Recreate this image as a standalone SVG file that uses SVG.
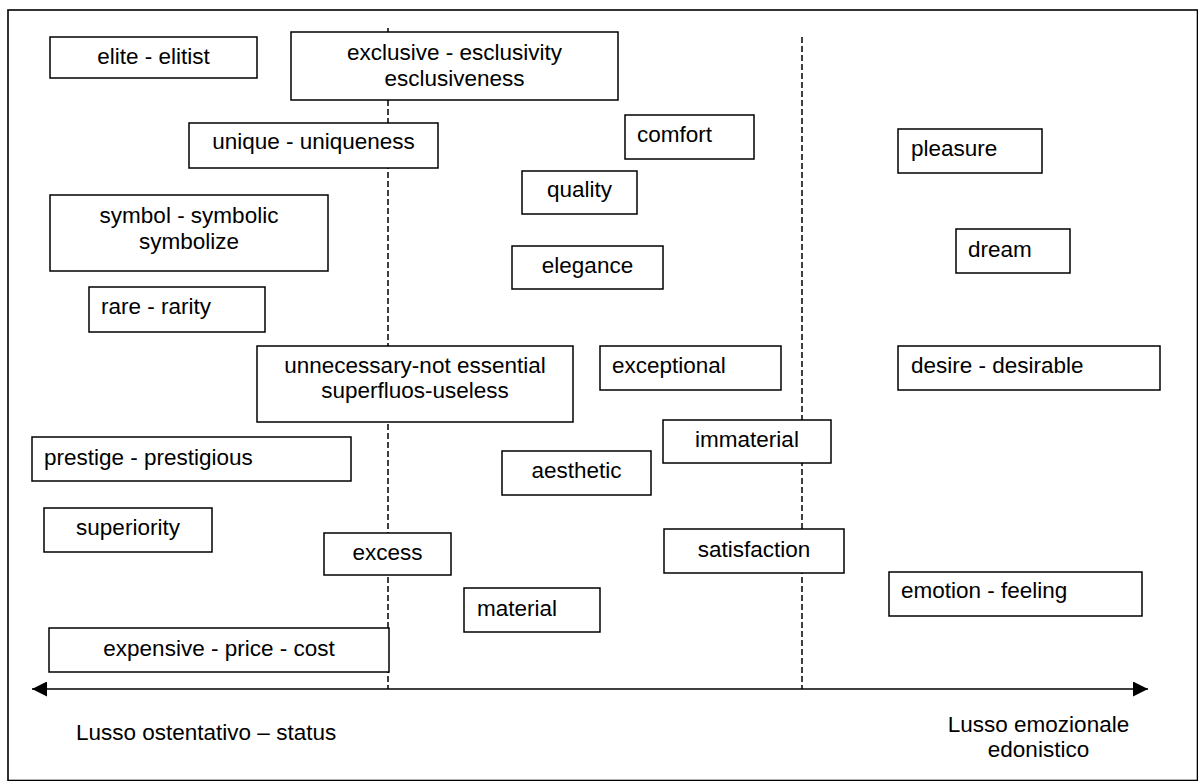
<svg xmlns="http://www.w3.org/2000/svg" width="1198" height="781" viewBox="0 0 1198 781">
<style>
  .box{fill:#fff;stroke:#000;stroke-width:1.5}
  text{font-family:"Liberation Sans",Arial,sans-serif;font-size:22.5px;fill:#000}
  .c{text-anchor:middle}
  .dash{stroke:#000;stroke-width:1.5;stroke-dasharray:6 3;fill:none}
  .axis{stroke:#000;stroke-width:1.6;fill:none}
</style>
<defs>
  <marker id="ah" markerUnits="userSpaceOnUse" markerWidth="15" markerHeight="15" refX="15" refY="7.5" orient="auto-start-reverse">
    <path d="M0,0 L15,7.5 L0,15 Z" fill="#000"/>
  </marker>
</defs>
<rect x="0" y="0" width="1198" height="781" fill="#fff"/>
<rect x="8" y="10" width="1189.5" height="770.5" fill="none" stroke="#000" stroke-width="1.6"/>
<g id="connectors">
  <line class="dash" x1="388" y1="28" x2="388" y2="689"/>
  <line class="dash" x1="802" y1="37" x2="802" y2="689"/>
  <line class="axis" x1="32" y1="689" x2="1148" y2="689" marker-start="url(#ah)" marker-end="url(#ah)"/>
</g>
<g id="n-elite"><rect class="box" x="50" y="37" width="207" height="41"/><text class="c" x="153.5" y="64">elite - elitist</text></g>
<g id="n-exclusive"><rect class="box" x="291" y="32" width="327" height="68"/><text class="c" x="454.5" y="60">exclusive - esclusivity</text><text class="c" x="454.5" y="86">esclusiveness</text></g>
<g id="n-unique"><rect class="box" x="189" y="123" width="249" height="45"/><text class="c" x="313.5" y="149">unique - uniqueness</text></g>
<g id="n-comfort"><rect class="box" x="625" y="115" width="129" height="44"/><text x="637" y="142">comfort</text></g>
<g id="n-pleasure"><rect class="box" x="898" y="129" width="144" height="44"/><text x="911" y="156">pleasure</text></g>
<g id="n-quality"><rect class="box" x="522" y="171" width="115" height="43"/><text class="c" x="579.5" y="197">quality</text></g>
<g id="n-symbol"><rect class="box" x="50" y="195" width="278" height="76"/><text class="c" x="189" y="223">symbol - symbolic</text><text class="c" x="189" y="249">symbolize</text></g>
<g id="n-dream"><rect class="box" x="956" y="229" width="114" height="44"/><text x="968" y="257">dream</text></g>
<g id="n-elegance"><rect class="box" x="512" y="246" width="151" height="43"/><text class="c" x="587.5" y="273">elegance</text></g>
<g id="n-rare"><rect class="box" x="89" y="287" width="176" height="45"/><text x="101" y="314">rare - rarity</text></g>
<g id="n-unnecessary"><rect class="box" x="257" y="346" width="316" height="76"/><text class="c" x="415" y="373">unnecessary-not essential</text><text class="c" x="415" y="398">superfluos-useless</text></g>
<g id="n-exceptional"><rect class="box" x="600" y="346" width="181" height="44"/><text x="612" y="373">exceptional</text></g>
<g id="n-desire"><rect class="box" x="898" y="346" width="262" height="44"/><text x="911" y="373">desire - desirable</text></g>
<g id="n-immaterial"><rect class="box" x="663" y="420" width="168" height="43"/><text class="c" x="747" y="447">immaterial</text></g>
<g id="n-prestige"><rect class="box" x="32" y="437" width="319" height="44"/><text x="44" y="465">prestige - prestigious</text></g>
<g id="n-aesthetic"><rect class="box" x="502" y="451" width="149" height="44"/><text class="c" x="576.5" y="478">aesthetic</text></g>
<g id="n-superiority"><rect class="box" x="44" y="508" width="168" height="44"/><text class="c" x="128" y="535">superiority</text></g>
<g id="n-satisfaction"><rect class="box" x="664" y="529" width="180" height="44"/><text class="c" x="754" y="557">satisfaction</text></g>
<g id="n-excess"><rect class="box" x="324" y="533" width="127" height="42"/><text class="c" x="387.5" y="560">excess</text></g>
<g id="n-emotion"><rect class="box" x="889" y="572" width="253" height="44"/><text x="901" y="598">emotion - feeling</text></g>
<g id="n-material"><rect class="box" x="464" y="588" width="136" height="44"/><text x="477" y="616">material</text></g>
<g id="n-expensive"><rect class="box" x="49" y="628" width="340" height="44"/><text class="c" x="219" y="656">expensive - price - cost</text></g>
<g id="label-left"><text x="76" y="740">Lusso ostentativo – status</text></g>
<g id="label-right"><text class="c" x="1038.5" y="732">Lusso emozionale</text><text class="c" x="1038.5" y="757">edonistico</text></g>
</svg>
